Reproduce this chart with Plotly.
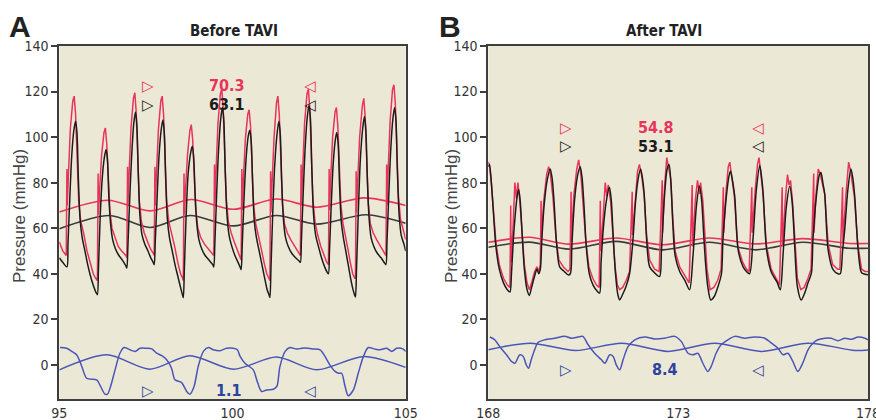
import plotly.graph_objects as go

# ---------------- Panel A (Before TAVI) ----------------
a_black_t = [95.00, 95.10, 95.22, 95.25, 95.30, 95.36, 95.42, 95.47, 95.51, 95.55, 95.60, 95.66, 95.74, 95.82, 95.90, 95.98, 96.07,
             96.10, 96.13, 96.18, 96.24, 96.30, 96.35, 96.39, 96.43, 96.48, 96.54, 96.62, 96.72, 96.82, 96.92,
             96.95, 96.98, 97.03, 97.09, 97.15, 97.20, 97.24, 97.28, 97.33, 97.39, 97.47, 97.56, 97.64, 97.71,
             97.74, 97.77, 97.82, 97.88, 97.94, 97.99, 98.03, 98.07, 98.12, 98.18, 98.26, 98.34, 98.42, 98.50, 98.56,
             98.58, 98.61, 98.66, 98.72, 98.79, 98.84, 98.88, 98.92, 98.97, 99.03, 99.11, 99.21, 99.32, 99.43,
             99.46, 99.49, 99.54, 99.60, 99.66, 99.71, 99.75, 99.79, 99.84, 99.90, 99.98, 100.07, 100.16, 100.23,
             100.25, 100.28, 100.33, 100.39, 100.45, 100.50, 100.54, 100.58, 100.63, 100.69, 100.77, 100.85, 100.93, 101.00, 101.06,
             101.08, 101.11, 101.16, 101.22, 101.29, 101.34, 101.38, 101.42, 101.47, 101.53, 101.61, 101.71, 101.82, 101.93,
             101.96, 101.99, 102.04, 102.10, 102.16, 102.21, 102.25, 102.29, 102.34, 102.40, 102.48, 102.57, 102.66, 102.74,
             102.77, 102.80, 102.85, 102.91, 102.97, 103.01, 103.05, 103.09, 103.14, 103.20, 103.27, 103.34, 103.41, 103.48, 103.53,
             103.55, 103.58, 103.63, 103.69, 103.76, 103.81, 103.85, 103.89, 103.94, 104.00, 104.08, 104.18, 104.29, 104.40,
             104.43, 104.46, 104.51, 104.57, 104.63, 104.68, 104.72, 104.76, 104.81, 104.87, 104.95, 105.00]
a_black_v = [47, 45, 43, 53, 72, 92, 103, 107, 102, 82, 64, 56, 50, 44, 39, 35, 31.5,
             30.8, 42, 65, 82, 91, 94.5, 90, 74, 62, 55, 51, 48, 46, 43.5,
             42.5, 52, 72, 92, 106, 111, 105, 84, 65, 57, 53, 50, 47, 45,
             44, 54, 72, 92, 103, 107.5, 102, 82, 64, 56, 50, 44, 39, 34, 30.5,
             29.5, 42, 65, 84, 93, 96, 91, 75, 62, 55, 51, 48, 46, 44,
             43, 53, 74, 95, 108, 113, 107, 85, 66, 57, 52, 48, 45, 42.5,
             41.8, 52, 72, 90, 100, 103, 98, 80, 63, 56, 50, 44, 38, 33, 30.5,
             29.6, 42, 66, 88, 102, 107, 101, 81, 64, 56, 52, 49, 47, 45.5,
             45, 55, 75, 96, 109, 114, 108, 86, 66, 57, 52, 47, 43, 40.5,
             40, 50, 70, 89, 99, 102, 97, 79, 63, 56, 50, 44, 38, 33, 30.5,
             29.8, 42, 66, 90, 104, 109, 103, 83, 65, 56, 52, 49, 47, 44.5,
             44, 54, 74, 95, 108, 113, 107, 85, 66, 57, 53, 50]

a_red_t = [95.00, 95.10, 95.20, 95.22, 95.23, 95.26, 95.32, 95.39, 95.43, 95.47, 95.51, 95.56, 95.62, 95.70, 95.80, 95.90, 95.98, 96.05,
           96.10, 96.12, 96.13, 96.16, 96.22, 96.29, 96.33, 96.37, 96.41, 96.46, 96.52, 96.60, 96.70, 96.80, 96.92,
           96.95, 96.97, 96.98, 97.01, 97.07, 97.14, 97.18, 97.22, 97.26, 97.31, 97.37, 97.45, 97.55, 97.63, 97.71,
           97.74, 97.76, 97.77, 97.80, 97.86, 97.93, 97.97, 98.01, 98.05, 98.10, 98.16, 98.24, 98.33, 98.42, 98.50, 98.56,
           98.58, 98.60, 98.61, 98.64, 98.70, 98.77, 98.81, 98.85, 98.89, 98.94, 99.00, 99.08, 99.19, 99.30, 99.42,
           99.46, 99.48, 99.49, 99.52, 99.58, 99.65, 99.69, 99.73, 99.77, 99.82, 99.88, 99.96, 100.05, 100.14, 100.22,
           100.25, 100.27, 100.28, 100.31, 100.37, 100.44, 100.48, 100.52, 100.56, 100.61, 100.67, 100.75, 100.83, 100.91, 100.99, 101.05,
           101.08, 101.10, 101.11, 101.14, 101.20, 101.27, 101.31, 101.35, 101.39, 101.44, 101.50, 101.58, 101.68, 101.79, 101.91,
           101.96, 101.98, 101.99, 102.02, 102.08, 102.15, 102.19, 102.23, 102.27, 102.32, 102.38, 102.46, 102.55, 102.64, 102.72,
           102.77, 102.79, 102.80, 102.83, 102.89, 102.96, 103.00, 103.04, 103.08, 103.13, 103.19, 103.26, 103.33, 103.40, 103.47, 103.53,
           103.55, 103.57, 103.58, 103.61, 103.67, 103.75, 103.79, 103.83, 103.87, 103.92, 103.98, 104.06, 104.16, 104.27, 104.39,
           104.43, 104.45, 104.46, 104.49, 104.55, 104.62, 104.66, 104.70, 104.74, 104.79, 104.85, 104.93, 105.00]
a_red_v = [54, 50, 48, 86, 70, 82, 104, 116, 118, 110, 88, 72, 63, 58, 50, 44, 40, 38,
           37, 84, 66, 76, 92, 102, 104, 97, 82, 68, 60, 56, 52, 50, 48,
           47, 87, 70, 82, 104, 117, 119.5, 111, 90, 72, 63, 58, 54, 51, 49,
           48, 87, 70, 82, 103, 116, 118, 110, 88, 72, 63, 58, 52, 45, 40, 38,
           37, 84, 66, 76, 92, 103, 105.5, 99, 83, 68, 60, 56, 53, 51, 49,
           48, 88, 70, 83, 106, 119, 121, 113, 91, 73, 63, 58, 54, 50, 47,
           46, 86, 68, 80, 99, 110, 112, 105, 86, 70, 62, 57, 51, 45, 40, 38,
           37, 85, 67, 79, 100, 115, 118, 110, 88, 71, 62, 58, 55, 52, 49,
           48, 88, 70, 83, 106, 119, 121, 113, 91, 73, 63, 57, 52, 48, 45,
           44, 86, 68, 80, 100, 111, 113, 105, 86, 70, 62, 57, 51, 45, 40, 38,
           38, 85, 67, 79, 100, 114, 117, 109, 88, 71, 62, 58, 55, 52, 49,
           48, 88, 70, 84, 107, 121, 123, 115, 93, 74, 64, 59, 55]

a_redmean_t = [95.0, 96.4, 97.62, 98.8, 100.03, 101.27, 102.43, 103.8, 105.0]
a_redmean_v = [67.1, 72.3, 67.6, 72.6, 68.3, 72.8, 69.2, 73.3, 70.0]
a_blkmean_t = [95.0, 96.45, 97.62, 98.77, 100.03, 101.27, 102.43, 103.85, 105.0]
a_blkmean_v = [59.8, 65.6, 60.3, 65.6, 61.0, 65.6, 61.8, 65.9, 62.2]

a_blue_t = [95.02, 95.21, 95.36, 95.50, 95.65, 95.79, 96.08, 96.17, 96.32, 96.39, 96.48, 96.61, 96.75, 96.87, 97.04, 97.19, 97.33,
            97.52, 97.67, 97.81, 97.96, 98.10, 98.24, 98.34, 98.53, 98.68, 98.77, 98.89, 99.01, 99.16, 99.30, 99.45, 99.64,
            99.83, 100.02, 100.14, 100.22, 100.36, 100.60, 100.70, 100.84, 100.99, 101.18, 101.28, 101.37, 101.52, 101.66,
            101.85, 102.00, 102.19, 102.33, 102.53, 102.67, 102.81, 102.96, 103.06, 103.15, 103.25, 103.34, 103.49, 103.63,
            103.78, 103.92, 104.11, 104.26, 104.45, 104.60, 104.74, 104.93, 105.0]
a_blue_v = [7.6, 7.3, 5.9, 4.4, -0.7, -5.9, -6.6, -8.8, -12.9, -12.9, -9.5, -2.2, 5.1, 7.6, 6.6, 5.9, 7.3,
            7.3, 7.0, 5.1, 4.0, 2.2, -1.5, -6.6, -7.8, -11.7, -12.9, -9.5, -0.7, 5.9, 7.6, 6.6, 6.2,
            7.3, 7.3, 6.6, 3.7, 0.7, -2.2, -6.6, -11.7, -11.0, -10.7, -9.5, -0.7, 5.9, 7.6,
            6.9, 7.3, 7.3, 7.0, 6.6, 3.7, 0.0, -2.9, -3.7, -3.7, -9.5, -13.6, -11.0, -3.7,
            3.7, 7.6, 6.9, 6.6, 7.3, 5.9, 7.3, 6.9, 5.9]
a_bluemean_t = [95.0, 96.37, 97.62, 98.77, 100.03, 101.27, 102.43, 103.79, 105.0]
a_bluemean_v = [-2.2, 4.4, -1.9, 4.0, -1.9, 3.4, -2.2, 3.7, -1.1]

# ---------------- Panel B (After TAVI) ----------------
b_black_t = [168.00, 168.03, 168.08, 168.13, 168.20, 168.29, 168.40, 168.50, 168.57,
             168.61, 168.66, 168.71, 168.76, 168.80, 168.84, 168.89, 168.95, 169.02, 169.08, 169.14, 169.22, 169.28, 169.33, 169.37,
             169.41, 169.47, 169.55, 169.63, 169.68, 169.73, 169.80, 169.88, 170.00, 170.10, 170.16,
             170.20, 170.27, 170.35, 170.42, 170.47, 170.52, 170.58, 170.66, 170.76, 170.86, 170.93,
             170.97, 171.03, 171.10, 171.19, 171.24, 171.29, 171.35, 171.41, 171.46, 171.54, 171.63, 171.72,
             171.81, 171.87, 171.94, 172.01, 172.06, 172.11, 172.17, 172.25, 172.38, 172.51,
             172.56, 172.64, 172.71, 172.76, 172.81, 172.86, 172.92, 173.04, 173.18, 173.30,
             173.39, 173.48, 173.56, 173.62, 173.67, 173.72, 173.78, 173.86, 173.95, 174.05, 174.14,
             174.18, 174.27, 174.34, 174.38, 174.44, 174.49, 174.58, 174.71, 174.80, 174.88,
             174.97, 175.06, 175.15, 175.20, 175.24, 175.33, 175.46, 175.60, 175.69,
             175.76, 175.85, 175.94, 176.00, 176.07, 176.14, 176.24, 176.32, 176.42, 176.51,
             176.55, 176.64, 176.72, 176.76, 176.81, 176.86, 176.95, 177.08, 177.21, 177.27,
             177.33, 177.39, 177.47, 177.55, 177.60, 177.65, 177.74, 177.83, 177.92, 178.00]
b_black_v = [87, 88, 80, 68, 52, 42, 36, 33, 32,
             40, 55, 66, 74, 77, 72, 58, 42, 33, 30.5, 34, 39, 42, 40, 42,
             55, 70, 81, 86, 82, 72, 53, 43, 41, 39.5, 40,
             52, 72, 83, 87, 82, 70, 52, 40, 35, 32.5, 31.5,
             45, 60, 71, 78, 72, 56, 40, 31, 28.5, 31, 34.5, 40,
             55, 70, 81, 86, 82, 74, 55, 43, 40.4, 38.8,
             50, 74, 86, 88, 80, 62, 48, 41, 37, 33,
             47.6, 69.6, 78.5, 72, 58, 45, 34.4, 28.5, 30, 34.4, 40,
             55, 74, 83, 85, 80, 74, 50.5, 43, 41, 40,
             55, 77, 87.5, 82, 75, 50.5, 40.4, 36.5, 33,
             47.6, 69.6, 78.4, 72, 52, 34.4, 28.5, 31, 36, 40.4,
             55, 74, 83.5, 84.5, 80, 75, 50.5, 41.8, 40, 40,
             50, 60, 77, 86, 82, 74, 50.5, 40.4, 39.8, 39.6]

b_red_t = [168.00, 168.03, 168.08, 168.13, 168.20, 168.29, 168.40, 168.50, 168.57,
           168.59, 168.60, 168.65, 168.70, 168.74, 168.78, 168.83, 168.89, 168.95, 169.02, 169.08, 169.14, 169.22, 169.28, 169.33, 169.37,
           169.39, 169.40, 169.46, 169.54, 169.59, 169.64, 169.70, 169.78, 169.86, 169.98, 170.10, 170.15,
           170.18, 170.19, 170.25, 170.33, 170.38, 170.44, 170.50, 170.57, 170.65, 170.75, 170.85, 170.92,
           170.95, 170.96, 171.02, 171.08, 171.12, 171.16, 171.22, 171.28, 171.34, 171.40, 171.46, 171.54, 171.63, 171.72,
           171.79, 171.80, 171.86, 171.93, 171.98, 172.04, 172.10, 172.17, 172.25, 172.38, 172.50,
           172.58, 172.59, 172.64, 172.70, 172.75, 172.80, 172.86, 172.92, 173.04, 173.18, 173.29,
           173.37, 173.38, 173.45, 173.51, 173.56, 173.59, 173.65, 173.70, 173.76, 173.84, 173.94, 174.04, 174.13,
           174.19, 174.20, 174.26, 174.32, 174.36, 174.42, 174.48, 174.57, 174.70, 174.80, 174.87,
           174.94, 174.95, 175.03, 175.09, 175.13, 175.18, 175.23, 175.32, 175.45, 175.58, 175.67,
           175.74, 175.75, 175.82, 175.88, 175.92, 175.96, 176.01, 176.07, 176.14, 176.23, 176.32, 176.42, 176.50,
           176.57, 176.58, 176.63, 176.69, 176.74, 176.80, 176.86, 176.95, 177.07, 177.20, 177.26,
           177.33, 177.34, 177.42, 177.49, 177.54, 177.59, 177.64, 177.73, 177.83, 177.92, 178.00]
b_red_v = [89, 88, 80, 69, 54, 44, 38, 35, 34,
           70, 45, 60, 80, 73, 80, 72, 58, 44, 36, 33, 36, 41, 43, 41, 44,
           72, 56, 72, 84, 87, 83, 74, 56, 46, 43, 41, 42,
           76, 54, 74, 86, 90, 83, 70, 54, 43, 38, 35, 34,
           72, 50, 64, 80, 74, 79, 72, 57, 43, 35, 33, 34, 37, 41,
           76, 57, 72, 85, 88, 83, 75, 57, 46, 42, 41,
           81, 58, 78, 91, 87, 82, 64, 50, 43, 39, 36,
           79, 52, 72, 81, 75, 80, 72, 58, 42, 33, 34, 37, 42,
           78, 58, 76, 87, 89, 82, 74, 52, 45, 42, 41,
           78, 58, 77, 88, 91, 84, 76, 53, 42, 38, 35,
           78, 52, 72, 83.5, 79, 81, 72, 54, 38, 33, 34, 38, 42,
           84, 58, 75, 86, 84, 80, 75, 53, 44, 42, 42,
           78, 54, 75, 89, 85, 80, 74, 53, 42, 41, 41]

b_redmean_t = [168.0, 169.08, 170.13, 171.36, 172.59, 173.82, 175.05, 176.28, 177.51, 178.0]
b_redmean_v = [53.8, 56.0, 53.0, 55.7, 52.7, 55.7, 53.1, 55.4, 53.3, 53.3]
b_blkmean_t = [168.0, 169.08, 170.13, 171.36, 172.59, 173.82, 175.05, 176.28, 177.51, 178.0]
b_blkmean_v = [51.6, 53.9, 50.8, 54.2, 50.5, 53.8, 50.5, 53.8, 51.2, 51.2]

b_blue_t = [168.04, 168.17, 168.30, 168.48, 168.61, 168.70, 168.83, 168.92, 169.00, 169.06, 169.13, 169.22, 169.31, 169.49,
            169.75, 170.01, 170.19, 170.36, 170.49, 170.63, 170.80, 170.98, 171.07, 171.20, 171.29, 171.37, 171.46, 171.55,
            171.68, 171.86, 172.12, 172.38, 172.64, 172.91, 173.08, 173.26, 173.39, 173.52, 173.65, 173.78, 173.87, 174.00,
            174.13, 174.31, 174.49, 174.75, 175.01, 175.28, 175.46, 175.63, 175.76, 175.89, 176.02, 176.15, 176.28, 176.42,
            176.55, 176.68, 176.86, 177.03, 177.21, 177.39, 177.56, 177.74, 177.92, 178.0]
b_blue_v = [12.2, 11.0, 8.0, 4.4, 1.5, 0.7, 4.4, 3.7, 0.0, -1.5, 2.2, 6.6, 9.8, 11.0,
            11.7, 12.5, 11.7, 12.2, 12.5, 8.8, 5.1, 2.2, 0.7, 4.4, 3.7, 0.0, -2.2, 2.2,
            8.0, 11.0, 12.2, 11.4, 11.7, 12.5, 10.3, 5.1, 4.4, 5.1, 0.7, -2.9, -0.7, 5.1,
            8.8, 11.0, 12.5, 11.7, 12.2, 11.7, 9.5, 7.3, 4.4, 5.1, 1.5, -2.9, 0.7, 6.6,
            9.5, 11.0, 11.7, 11.7, 10.6, 11.7, 11.2, 12.2, 11.7, 11.0]
b_bluemean_t = [168.0, 169.1, 170.3, 171.51, 172.74, 173.96, 175.19, 176.42, 177.65, 178.0]
b_bluemean_v = [6.6, 9.5, 6.3, 9.5, 5.9, 9.5, 5.9, 9.5, 6.3, 6.5]

# axis ticks / labels
y_ticks = [0, 20, 40, 60, 80, 100, 120, 140]
a_xticks = [95, 100, 105]
b_xticks = [168, 173, 178]

RED = "#e8345a"
BLACK = "#1c1c1c"
BLUE = "#4a55b8"
LBLUE = "#2d43a0"
BG = "#ece8d6"
FRAME = "#3e3e3e"
COND = "Liberation Sans Narrow, DejaVu Sans Condensed, Arial Narrow, sans-serif"

fig = go.Figure()

def add(x, y, color, xa, ya, width=1.6, shape="linear"):
    fig.add_trace(go.Scatter(x=x, y=y, mode="lines", xaxis=xa, yaxis=ya,
                             line=dict(color=color, width=width, shape=shape, smoothing=0.8),
                             hoverinfo="skip", showlegend=False))

for xa, ya, rt, rv, bt, bv, rmt, rmv, kmt, kmv, blt, blv, bmt, bmv in [
    ("x", "y", a_red_t, a_red_v, a_black_t, a_black_v, a_redmean_t, a_redmean_v, a_blkmean_t, a_blkmean_v,
     a_blue_t, a_blue_v, a_bluemean_t, a_bluemean_v),
    ("x2", "y2", b_red_t, b_red_v, b_black_t, b_black_v, b_redmean_t, b_redmean_v, b_blkmean_t, b_blkmean_v,
     b_blue_t, b_blue_v, b_bluemean_t, b_bluemean_v)]:
    add(rmt, rmv, RED, xa, ya, 1.6, "spline")
    add(kmt, kmv, "#3a3a3a", xa, ya, 1.6, "spline")
    add(rt, rv, RED, xa, ya, 1.5)
    add(bt, bv, BLACK, xa, ya, 1.5, "spline")
    add(bmt, bmv, BLUE, xa, ya, 1.5, "spline")
    add(blt, blv, BLUE, xa, ya, 1.5, "spline")

axis_common = dict(showline=True, mirror=True, linecolor=FRAME, linewidth=2, showgrid=False, zeroline=False,
                   automargin=False, ticklabeloverflow="allow", tickfont=dict(family=COND, size=14, color="#333"))
fig.update_layout(
    width=876, height=420, margin=dict(l=0, r=0, t=0, b=0, autoexpand=False),
    paper_bgcolor="white", plot_bgcolor=BG,
    xaxis=dict(domain=[59.3 / 876, 405.7 / 876], range=[95, 105], tickvals=a_xticks, ticks="", anchor="y", **axis_common),
    yaxis=dict(domain=[1 - 399 / 420, 1 - 46 / 420], range=[-15, 140], tickvals=y_ticks, ticks="outside", ticklen=6,
               tickcolor=FRAME, tickwidth=2, anchor="x", **axis_common),
    xaxis2=dict(domain=[488.3 / 876, 868 / 876], range=[168, 178], tickvals=b_xticks, ticks="", anchor="y2", **axis_common),
    yaxis2=dict(domain=[1 - 399 / 420, 1 - 46 / 420], range=[-15, 140], tickvals=y_ticks, ticks="outside", ticklen=6,
                tickcolor=FRAME, tickwidth=2, anchor="x2", **axis_common),
)

def paper_text(text, px, py, size, family, color="#222", angle=0):
    fig.add_annotation(text=text, x=px / 876, y=1 - py / 420, xref="paper", yref="paper", showarrow=False,
                       xanchor="center", yanchor="middle", textangle=angle,
                       font=dict(family=family, size=size, color=color))

# panel letters, titles, y-axis titles
paper_text("<b>A</b>", 20, 27, 30, "Liberation Sans, Arial, sans-serif")
paper_text("<b>B</b>", 450, 27, 30, "Liberation Sans, Arial, sans-serif")
paper_text("<b>Before TAVI</b>", 234, 31, 15, COND)
paper_text("<b>After TAVI</b>", 664, 31, 15, COND)
paper_text("Pressure (mmHg)", 20, 216, 17, "Liberation Sans, Arial, sans-serif", "#444", -90)
paper_text("Pressure (mmHg)", 452, 216, 17, "Liberation Sans, Arial, sans-serif", "#444", -90)

# value annotations: (x, y, text, color, axis)
labels = [
    (97.56, 122.6, "▷", RED, "x", "y"), (99.84, 122.6, "<b>70.3</b>", RED, "x", "y"), (102.24, 122.6, "◁", RED, "x", "y"),
    (97.56, 114.3, "▷", BLACK, "x", "y"), (99.84, 114.3, "<b>63.1</b>", BLACK, "x", "y"), (102.24, 114.3, "◁", BLACK, "x", "y"),
    (97.56, -11.4, "▷", LBLUE, "x", "y"), (99.9, -11.4, "<b>1.1</b>", LBLUE, "x", "y"), (102.24, -11.4, "◁", LBLUE, "x", "y"),
    (170.05, 104.0, "▷", RED, "x2", "y2"), (172.41, 104.0, "<b>54.8</b>", RED, "x2", "y2"), (175.1, 104.0, "◁", RED, "x2", "y2"),
    (170.05, 96.0, "▷", BLACK, "x2", "y2"), (172.41, 96.0, "<b>53.1</b>", BLACK, "x2", "y2"), (175.1, 96.0, "◁", BLACK, "x2", "y2"),
    (170.05, -2.2, "▷", LBLUE, "x2", "y2"), (172.65, -2.2, "<b>8.4</b>", LBLUE, "x2", "y2"), (175.1, -2.2, "◁", LBLUE, "x2", "y2"),
]
for x, y, t, c, xr, yr in labels:
    is_tri = t in ("▷", "◁")
    fig.add_annotation(text=t, x=x, y=y, xref=xr, yref=yr, showarrow=False, xanchor="center", yanchor="middle",
                       font=dict(family="DejaVu Sans, sans-serif" if is_tri else COND, size=15 if is_tri else 16, color=c))

fig.write_html("out.html", config={"displayModeBar": False, "staticPlot": True},
               post_script="document.body.style.margin='0px';document.body.style.overflow='hidden';")
